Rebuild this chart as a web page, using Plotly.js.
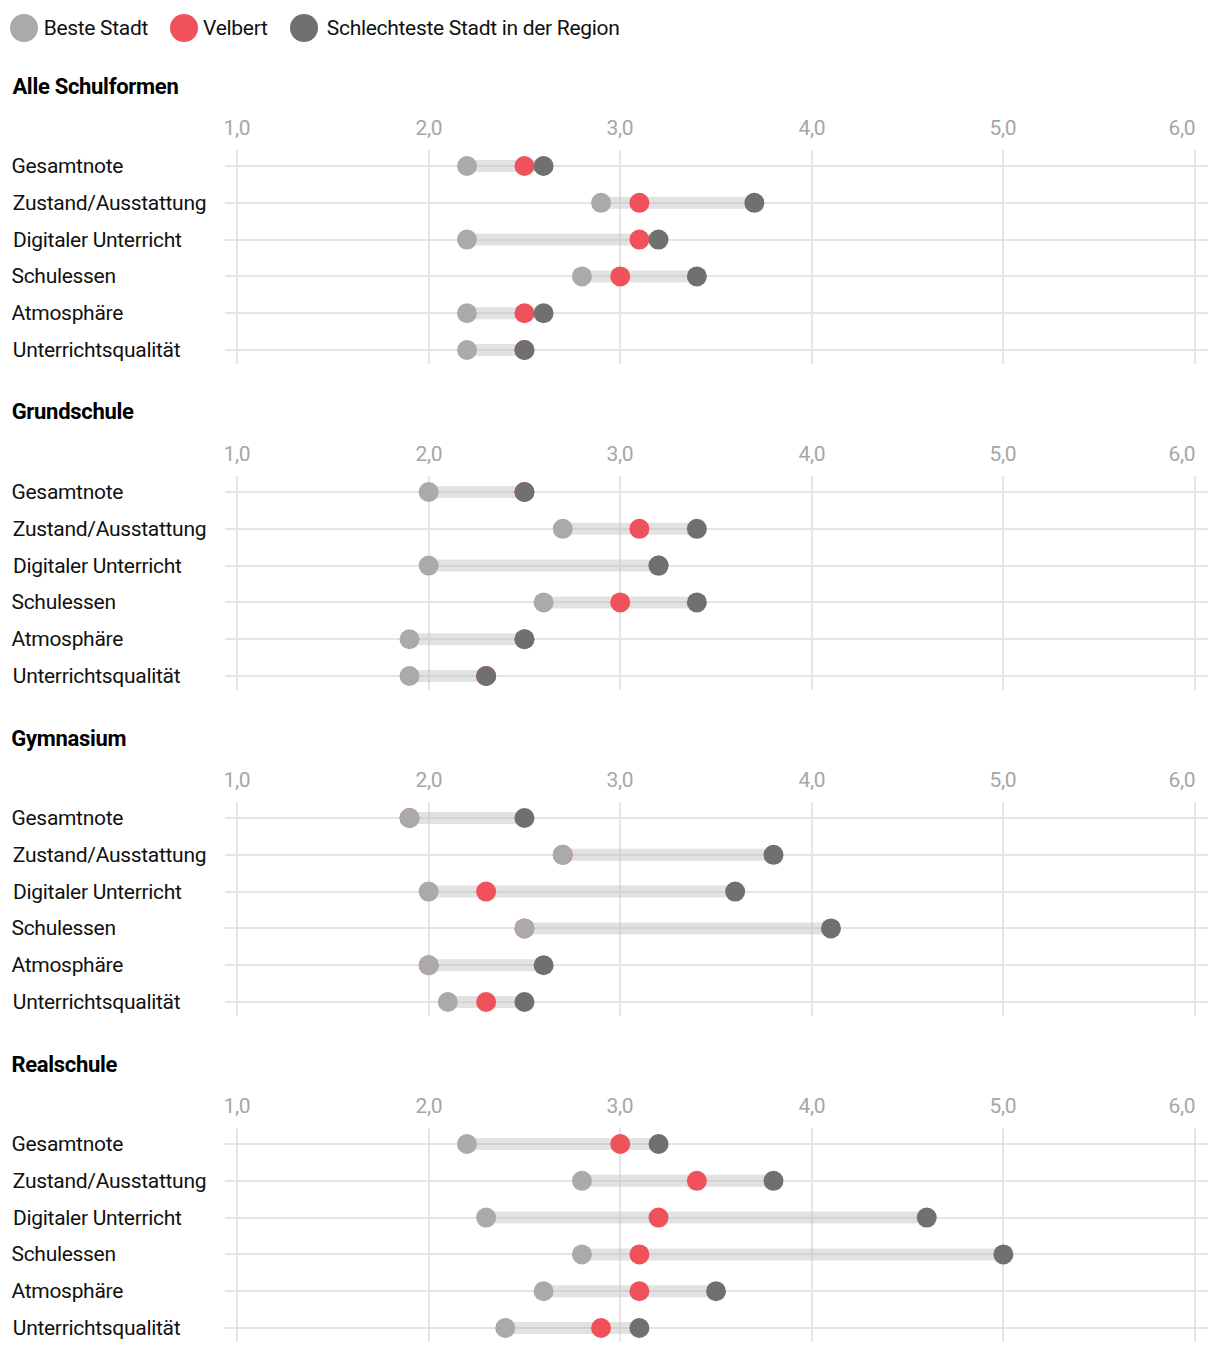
<!DOCTYPE html>
<html>
<head>
<meta charset="utf-8">
<script src="https://cdn.plot.ly/plotly-3.0.1.min.js"></script>
<style>
  html, body { margin: 0; padding: 0; background: #fff; }
  #chart { width: 1220px; height: 1354px; }
  #chart svg text { letter-spacing: -0.3px; }
</style>
</head>
<body>
<div id="chart"></div>
<script>
const categories = ["Gesamtnote", "Zustand/Ausstattung", "Digitaler Unterricht", "Schulessen", "Atmosphäre", "Unterrichtsqualität"];
const panelTitles = ["Alle Schulformen", "Grundschule", "Gymnasium", "Realschule"];
const seriesNames = ["Beste Stadt", "Velbert", "Schlechteste Stadt in der Region"];
const xTickVals = [1, 2, 3, 4, 5, 6];
const xTickText = ["1,0", "2,0", "3,0", "4,0", "5,0", "6,0"];

const bestAlle = [2.2, 2.9, 2.2, 2.8, 2.2, 2.2];
const velbertAlle = [2.5, 3.1, 3.1, 3.0, 2.5, 2.5];
const worstAlle = [2.6, 3.7, 3.2, 3.4, 2.6, 2.5];

const bestGrund = [2.0, 2.7, 2.0, 2.6, 1.9, 1.9];
const velbertGrund = [2.5, 3.1, 3.2, 3.0, 2.5, 2.3];
const worstGrund = [2.5, 3.4, 3.2, 3.4, 2.5, 2.3];

const bestGym = [1.9, 2.7, 2.0, 2.5, 2.0, 2.1];
const velbertGym = [1.9, 2.7, 2.3, 2.5, 2.0, 2.3];
const worstGym = [2.5, 3.8, 3.6, 4.1, 2.6, 2.5];

const bestReal = [2.2, 2.8, 2.3, 2.8, 2.6, 2.4];
const velbertReal = [3.0, 3.4, 3.2, 3.1, 3.1, 2.9];
const worstReal = [3.2, 3.8, 4.6, 5.0, 3.5, 3.1];

const panelData = [
  [bestAlle, velbertAlle, worstAlle],
  [bestGrund, velbertGrund, worstGrund],
  [bestGym, velbertGym, worstGym],
  [bestReal, velbertReal, worstReal]
];

// ---- styling / layout ----
const W = 1220, H = 1354;
const FONT = 'Roboto, "Liberation Sans", sans-serif';
const COL_BEST = '#aaaaaa', COL_VEL = '#ef525b', COL_WORST = '#707070';
const COL_BAND = 'rgba(185,185,185,0.42)';
const GRID = '#e5e5e5';
const px = v => v / W;
const py = v => 1 - v / H;

const traces = [];
const layout = {
  width: W, height: H,
  margin: {l: 0, r: 0, t: 0, b: 0},
  paper_bgcolor: '#fff', plot_bgcolor: 'rgba(0,0,0,0)',
  showlegend: false,
  font: {family: FONT, size: 21, color: '#111'},
  hovermode: false,
  annotations: [],
  shapes: []
};

panelData.forEach((series, k) => {
  const n = k + 1;
  const xa = n === 1 ? 'x' : 'x' + n;
  const ya = n === 1 ? 'y' : 'y' + n;
  const best = series[0], vel = series[1], worst = series[2];

  // connector band
  const bx = [], by = [];
  categories.forEach((c, i) => { bx.push(best[i], worst[i], null); by.push(c, c, null); });
  traces.push({x: bx, y: by, xaxis: xa, yaxis: ya, type: 'scatter', mode: 'lines',
    line: {color: COL_BAND, width: 12}, hoverinfo: 'skip'});
  traces.push({x: vel, y: categories, xaxis: xa, yaxis: ya, type: 'scatter', mode: 'markers',
    name: seriesNames[1], marker: {color: COL_VEL, size: 20}});
  traces.push({x: best, y: categories, xaxis: xa, yaxis: ya, type: 'scatter', mode: 'markers',
    name: seriesNames[0], marker: {color: COL_BEST, size: 20}});
  traces.push({x: worst, y: categories, xaxis: xa, yaxis: ya, type: 'scatter', mode: 'markers',
    name: seriesNames[2], marker: {color: COL_WORST, size: 20}});

  const top = 150 + 326 * k, bottom = 364 + 326 * k;
  const xKey = n === 1 ? 'xaxis' : 'xaxis' + n;
  const yKey = n === 1 ? 'yaxis' : 'yaxis' + n;
  layout[xKey] = {
    domain: [px(225), px(1208)], anchor: ya, side: 'top',
    range: [0.937, 6.068], tickmode: 'array', tickvals: xTickVals, ticktext: xTickText,
    showticklabels: false,
    showgrid: true, gridcolor: GRID, gridwidth: 2, zeroline: false, showline: false,
    ticks: '', fixedrange: true
  };
  layout[yKey] = {
    domain: [py(bottom), py(top)], anchor: xa,
    type: 'category', categoryorder: 'array', categoryarray: categories,
    range: [5.38, -0.435], showgrid: true, gridcolor: GRID, gridwidth: 2,
    zeroline: false, showline: false, showticklabels: false, ticks: '', fixedrange: true
  };

  // x tick labels (last one right-aligned to its gridline, as in the original)
  xTickVals.forEach((v, i) => {
    const last = i === xTickVals.length - 1;
    layout.annotations.push({xref: xa, yref: 'paper', x: v, y: py(128 + 326 * k),
      xanchor: last ? 'right' : 'center', yanchor: 'middle', showarrow: false,
      text: xTickText[i], xshift: last ? 2 : 0, borderpad: 0,
      font: {family: FONT, size: 21, color: '#a6a6a6'}});
  });

  // panel title
  layout.annotations.push({xref: 'paper', yref: 'paper', x: px(8), y: py(86 + 326 * k),
    xanchor: 'left', yanchor: 'middle', showarrow: false, text: '<b>' + panelTitles[k] + '</b>',
    font: {family: FONT, size: 22, color: '#000'}});
  // category labels
  categories.forEach(c => {
    layout.annotations.push({xref: 'paper', yref: ya, x: px(8), y: c,
      xanchor: 'left', yanchor: 'middle', showarrow: false, text: c,
      font: {family: FONT, size: 21, color: '#111'}});
  });
});

// legend
const legendItems = [
  {cx: 24, color: COL_BEST, name: seriesNames[0]},
  {cx: 184, color: COL_VEL, name: seriesNames[1]},
  {cx: 304, color: COL_WORST, name: seriesNames[2]}
];
legendItems.forEach(it => {
  layout.shapes.push({type: 'circle', xref: 'paper', yref: 'paper',
    x0: px(it.cx - 14), x1: px(it.cx + 14), y0: py(42), y1: py(14),
    fillcolor: it.color, line: {width: 0}});
  layout.annotations.push({xref: 'paper', yref: 'paper', x: px(it.cx + 16), y: py(28),
    xanchor: 'left', yanchor: 'middle', showarrow: false, text: it.name,
    font: {family: FONT, size: 21, color: '#111'}});
});

Plotly.newPlot('chart', traces, layout, {staticPlot: true, displayModeBar: false});
</script>
</body>
</html>
